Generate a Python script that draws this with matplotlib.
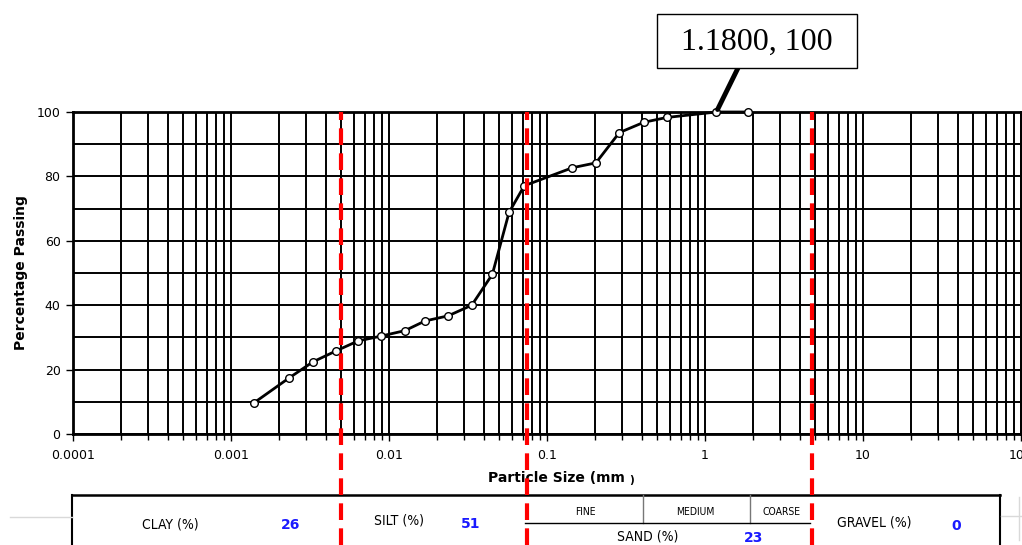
import matplotlib
matplotlib.use("Agg")
import matplotlib.pyplot as plt
import matplotlib.ticker as mticker
from matplotlib.lines import Line2D
from matplotlib.patches import Rectangle
import matplotlib.transforms as mtransforms

# ---- data ----
sizes_mm = [0.0014, 0.00233, 0.0033, 0.00462, 0.00637, 0.0089, 0.0126, 0.0169,
            0.0237, 0.0334, 0.0451, 0.0575, 0.0718, 0.145, 0.204, 0.287,
            0.41, 0.572, 1.18, 1.88]
passing = [9.7, 17.4, 22.4, 25.8, 28.9, 30.4, 32.1, 35.1,
           36.7, 40.0, 49.6, 68.8, 77.1, 82.7, 84.2, 93.6,
           96.8, 98.3, 100, 100]
boundaries_mm = [0.005, 0.075, 4.75]
xtick_vals = [0.0001, 0.001, 0.01, 0.1, 1, 10, 100]
xtick_labels = ["0.0001", "0.001", "0.01", "0.1", "1", "10", "100"]
ytick_vals = [0, 20, 40, 60, 80, 100]
clay_pct, silt_pct, sand_pct, gravel_pct = 26, 51, 23, 0
annot_index = 18

W, H = 1022, 545
fig = plt.figure(figsize=(W / 100, H / 100), dpi=100)

def fx(px):
    return px / W

def fy(py):
    return 1 - py / H

ax = fig.add_axes([fx(73), fy(434), fx(1021) - fx(73), fy(112) - fy(434)])
ax.set_xscale("log")
ax.set_xlim(1e-4, 100)
ax.set_ylim(0, 100)

ax.xaxis.set_major_locator(mticker.FixedLocator(xtick_vals))
ax.xaxis.set_major_formatter(mticker.FixedFormatter(xtick_labels))
ax.xaxis.set_minor_locator(mticker.LogLocator(base=10, subs=range(2, 10), numticks=100))
ax.xaxis.set_minor_formatter(mticker.NullFormatter())
ax.set_yticks(ytick_vals)
ax.yaxis.set_minor_locator(mticker.MultipleLocator(10))

ax.grid(which="both", axis="both", color="black", lw=1.4)
ax.set_axisbelow(True)
for s in ax.spines.values():
    s.set_linewidth(2)
    s.set_color("black")

ax.tick_params(axis="x", which="major", direction="out", length=5, width=1, labelsize=9, pad=6)
ax.tick_params(axis="x", which="minor", direction="out", length=4, width=1)
ax.tick_params(axis="y", which="major", direction="out", length=5, width=1, labelsize=9, pad=4)
ax.tick_params(axis="y", which="minor", length=0)

ax.plot(sizes_mm, passing, color="black", lw=2, marker="o", markersize=5.5,
        markerfacecolor="white", markeredgecolor="black", markeredgewidth=1,
        clip_on=False, zorder=5)

ax.set_ylabel("Percentage Passing", fontsize=10, fontweight="bold", labelpad=6)
fig.text(fx(556), fy(478), "Particle Size (mm", fontsize=10, fontweight="bold",
         ha="center", va="center")
fig.text(fx(632), fy(480), ")", fontsize=7.5, fontweight="bold", ha="center", va="center")

# annotation box
ax_ = sizes_mm[annot_index]
ay_ = passing[annot_index]
ax.annotate("", xy=(ax_, ay_), xycoords="data", xytext=(738, H - 68),
            textcoords="figure pixels",
            arrowprops=dict(arrowstyle="-", lw=3.5, color="black", shrinkA=0, shrinkB=2),
            annotation_clip=False, zorder=6)
fig.patches.append(Rectangle((fx(657), fy(68)), fx(857) - fx(657), fy(14) - fy(68),
                             transform=fig.transFigure, facecolor="white",
                             edgecolor="black", lw=1, zorder=7))
fig.text(fx(757), fy(42), f"{ax_:.4f}, {ay_:.0f}", fontsize=23,
         family="Liberation Serif", ha="center", va="center", zorder=8)

# table
lc = "black"
tbl_top = 495
fig.add_artist(Line2D([fx(72), fx(1000)], [fy(tbl_top), fy(tbl_top)], color=lc, lw=1.8,
                      transform=fig.transFigure))
for xp in (72, 1000):
    fig.add_artist(Line2D([fx(xp), fx(xp)], [fy(tbl_top), 0], color=lc, lw=1.5,
                          transform=fig.transFigure))
for xp in (643, 750):
    fig.add_artist(Line2D([fx(xp), fx(xp)], [fy(tbl_top), fy(523)], color="#777777", lw=1,
                          transform=fig.transFigure))
fig.add_artist(Line2D([fx(525), fx(810)], [fy(523), fy(523)], color=lc, lw=1,
                      transform=fig.transFigure))
# faint page lines
fig.add_artist(Line2D([fx(10), fx(72)], [fy(517), fy(517)], color="#d9d9d9", lw=1,
                      transform=fig.transFigure))
fig.add_artist(Line2D([fx(1001), fx(1022)], [fy(516), fy(516)], color="#d9d9d9", lw=1,
                      transform=fig.transFigure))
fig.add_artist(Line2D([fx(1019), fx(1019)], [fy(497), fy(540)], color="#d9d9d9", lw=1,
                      transform=fig.transFigure))

tfont = dict(fontsize=10, ha="center", va="center", family="DejaVu Sans", fontstretch="condensed")
sfont = dict(fontsize=7.5, ha="center", va="center", family="DejaVu Sans", fontstretch="condensed")
nfont = dict(fontsize=10, ha="center", va="center", color="#1a1aff", fontweight="bold")
fig.text(fx(170), fy(524), "CLAY (%)", **tfont)
fig.text(fx(291), fy(525), f"{clay_pct}", **nfont)
fig.text(fx(399), fy(521), "SILT (%)", **tfont)
fig.text(fx(471), fy(524), f"{silt_pct}", **nfont)
fig.text(fx(585), fy(512), "FINE", **sfont)
fig.text(fx(695), fy(512), "MEDIUM", **sfont)
fig.text(fx(782), fy(512), "COARSE", **sfont)
fig.text(fx(648), fy(537), "SAND (%)", **tfont)
fig.text(fx(754), fy(538), f"{sand_pct}", **nfont)
fig.text(fx(874), fy(523), "GRAVEL (%)", **tfont)
fig.text(fx(956), fy(526), f"{gravel_pct}", **nfont)

# red dashed boundaries across plot and table
blend = mtransforms.blended_transform_factory(ax.transData, fig.transFigure)
for b in boundaries_mm:
    fig.add_artist(Line2D([b, b], [0, fy(112)], color="#ff0000", lw=3,
                          linestyle=(0, (4, 2)), transform=blend, zorder=10))

fig.savefig("out.png", dpi=100)
